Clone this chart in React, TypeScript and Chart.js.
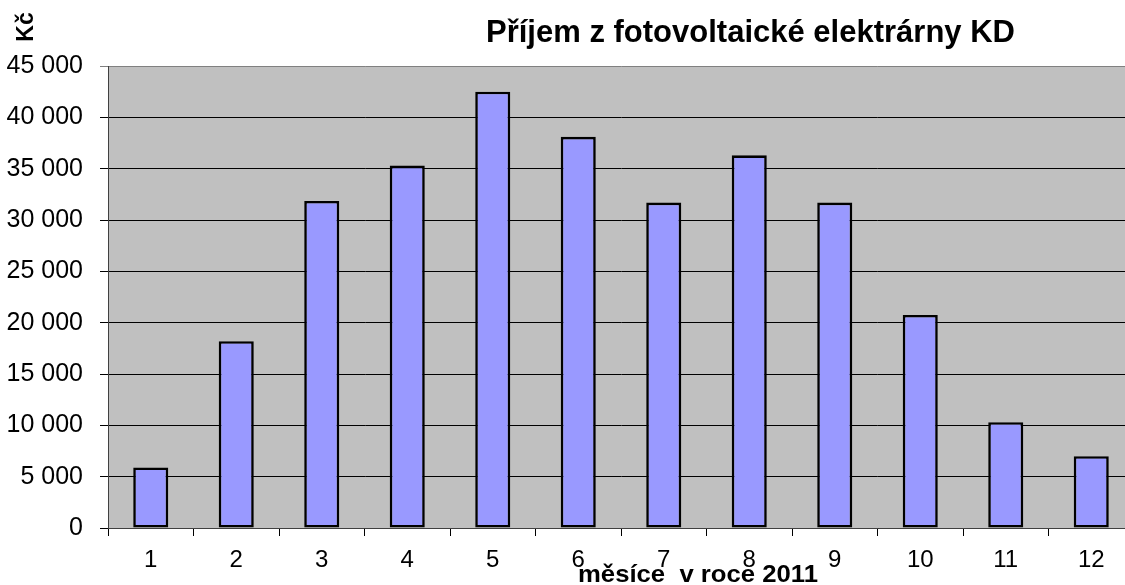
import React, { useEffect, useRef } from "react";
import { Chart, registerables } from "chart.js";

Chart.register(...registerables);

const categories = ["1", "2", "3", "4", "5", "6", "7", "8", "9", "10", "11", "12"];
const income = [5900, 18200, 31850, 35300, 42500, 38100, 31700, 36300, 31700, 20750, 10300, 7000];
const yMin = 0;
const yMax = 45000;
const yStep = 5000;

const chartTitle = "Příjem z fotovoltaické elektrárny KD";
const yTitle = "Kč";
const xTitle = "měsíce  v roce 2011";

const FONT = "'Liberation Sans', Arial, sans-serif";

function fmt(v: number): string {
  return String(v).replace(/\B(?=(\d{3})+(?!\d))/g, " ");
}

function drawFitted(
  ctx: CanvasRenderingContext2D,
  text: string,
  font: string,
  cx: number,
  baseline: number,
  targetWidth: number
) {
  ctx.save();
  ctx.font = font;
  const w = ctx.measureText(text).width;
  const s = targetWidth / w;
  ctx.translate(cx, baseline);
  ctx.scale(s, 1);
  ctx.textAlign = "center";
  ctx.textBaseline = "alphabetic";
  ctx.fillStyle = "#000";
  ctx.fillText(text, 0, 0);
  ctx.restore();
}

const decorPlugin = {
  id: "decor",
  beforeDraw(chart: any) {
    const { ctx, chartArea } = chart;
    ctx.save();
    ctx.fillStyle = "#C0C0C0";
    ctx.fillRect(chartArea.left, chartArea.top, chartArea.right - chartArea.left, chartArea.bottom - chartArea.top);
    ctx.restore();
  },
  afterDraw(chart: any) {
    const ctx: CanvasRenderingContext2D = chart.ctx;
    drawFitted(ctx, chartTitle, `bold 32px ${FONT}`, 750.5, 42, 529);
    drawFitted(ctx, xTitle, `bold 24px ${FONT}`, 698, 582, 240);
    ctx.save();
    ctx.translate(33, 27);
    ctx.rotate(-Math.PI / 2);
    ctx.font = `bold 23px ${FONT}`;
    ctx.textAlign = "center";
    ctx.textBaseline = "alphabetic";
    ctx.fillStyle = "#000";
    ctx.fillText(yTitle, 0, 0);
    ctx.restore();
  },
};

export default function App() {
  const ref = useRef<HTMLCanvasElement | null>(null);

  useEffect(() => {
    document.body.style.margin = "0";
    document.body.style.overflow = "hidden";
    const canvas = ref.current;
    if (!canvas) return;
    const chart = new Chart(canvas, {
      type: "bar",
      data: {
        labels: categories,
        datasets: [
          {
            data: income,
            backgroundColor: "#9999FF",
            borderColor: "#000000",
            borderWidth: 2.6,
            borderSkipped: false,
            categoryPercentage: 1,
            barPercentage: 0.41,
          },
        ],
      },
      options: {
        animation: false,
        responsive: false,
        devicePixelRatio: 1,
        layout: { padding: { top: 66, right: 6, left: 0, bottom: 0 } },
        plugins: {
          legend: { display: false },
          title: { display: false },
          tooltip: { enabled: false },
        },
        scales: {
          x: {
            offset: true,
            grid: {
              offset: true,
              drawOnChartArea: false,
              drawTicks: true,
              tickLength: 8,
              color: "#000000",
            },
            border: { display: true, color: "#404040", width: 1 },
            ticks: {
              color: "#000",
              font: { family: FONT, size: 24 },
              padding: 10,
              maxRotation: 0,
              autoSkip: false,
            },
            afterFit(scale: any) {
              scale.height = 57;
            },
          },
          y: {
            min: yMin,
            max: yMax,
            ticks: {
              stepSize: yStep,
              color: "#000",
              font: { family: FONT, size: 25 },
              padding: 17,
              callback: (v: any) => fmt(Number(v)),
            },
            grid: {
              color: (c: any) => (c.tick && c.tick.value === yMax ? "#808080" : "#000000"),
              lineWidth: 1,
              tickLength: 8,
            },
            border: { display: true, color: "#404040", width: 1 },
            afterFit(scale: any) {
              scale.width = 108;
            },
          },
        },
      },
      plugins: [decorPlugin],
    });
    return () => chart.destroy();
  }, []);

  return (
    <div style={{ width: 1125, height: 585, overflow: "hidden" }}>
      <canvas ref={ref} width={1140} height={585} style={{ display: "block" }} />
    </div>
  );
}
